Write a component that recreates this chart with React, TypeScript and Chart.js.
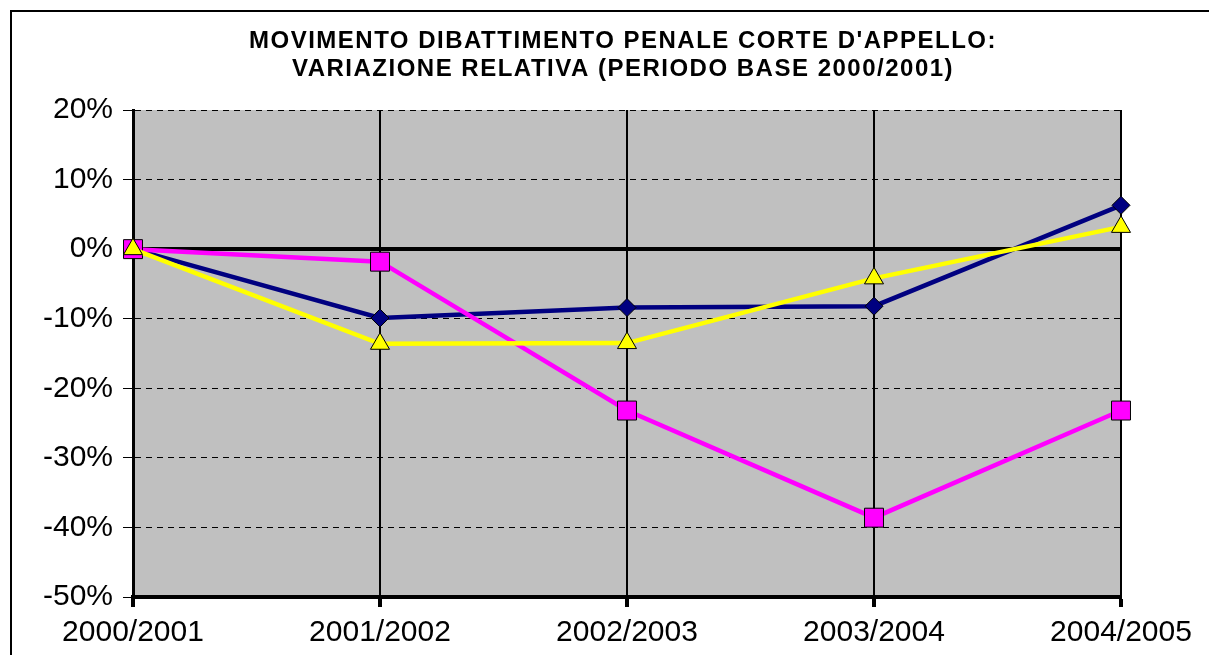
import React, { useEffect, useRef } from 'react';
import { Chart, registerables } from 'chart.js';

Chart.register(...registerables);

const categories = ['2000/2001', '2001/2002', '2002/2003', '2003/2004', '2004/2005'];
const navySeries = [0, -9.9, -8.4, -8.2, 6.3];
const magentaSeries = [0, -1.8, -23.2, -38.6, -23.2];
const yellowSeries = [0, -13.6, -13.5, -4.2, 3.2];
const yMin = -50;
const yMax = 20;
const yStep = 10;
const titleLines = [
  "MOVIMENTO DIBATTIMENTO PENALE CORTE D'APPELLO:",
  'VARIAZIONE RELATIVA (PERIODO BASE 2000/2001)',
];

const FONT = "'Liberation Sans', Arial, sans-serif";

const bgPlugin = {
  id: 'bgPlugin',
  beforeDraw(chart: any) {
    const { ctx, chartArea: a, width, height } = chart;
    ctx.save();
    ctx.fillStyle = '#ffffff';
    ctx.fillRect(0, 0, width, height);
    ctx.fillStyle = '#C0C0C0';
    ctx.fillRect(a.left, a.top, a.right - a.left, a.bottom - a.top);
    ctx.strokeStyle = '#000000';
    ctx.lineWidth = 2;
    ctx.beginPath();
    ctx.moveTo(11, height);
    ctx.lineTo(11, 11);
    ctx.lineTo(width, 11);
    ctx.stroke();
    ctx.restore();
  },
};

const titlePlugin = {
  id: 'spacedTitle',
  afterDraw(chart: any) {
    const { ctx } = chart;
    ctx.save();
    ctx.fillStyle = '#000000';
    ctx.font = `bold 24px ${FONT}`;
    ctx.textAlign = 'center';
    ctx.textBaseline = 'alphabetic';
    try {
      (ctx as any).letterSpacing = '1.5px';
    } catch (e) {}
    const cx = 623;
    titleLines.forEach((line, i) => {
      ctx.fillText(line, cx, 48 + i * 28);
    });
    try {
      (ctx as any).letterSpacing = '0px';
    } catch (e) {}
    ctx.restore();
  },
};

export default function App() {
  const ref = useRef<HTMLCanvasElement | null>(null);

  useEffect(() => {
    if (!ref.current) return;
    const chart = new Chart(ref.current, {
      type: 'line',
      data: {
        labels: categories,
        datasets: [
          {
            label: 'A',
            data: navySeries,
            borderColor: '#000080',
            backgroundColor: '#000080',
            borderWidth: 4.5,
            pointStyle: 'rectRot',
            pointRadius: 9,
            pointBackgroundColor: '#000080',
            pointBorderColor: '#000000',
            pointBorderWidth: 1,
            order: 2,
            tension: 0,
            clip: false,
          },
          {
            label: 'B',
            data: magentaSeries,
            borderColor: '#FF00FF',
            backgroundColor: '#FF00FF',
            borderWidth: 4.5,
            pointStyle: 'rect',
            pointRadius: 13.4,
            pointBackgroundColor: '#FF00FF',
            pointBorderColor: '#000000',
            pointBorderWidth: 1,
            order: 1,
            tension: 0,
            clip: false,
          },
          {
            label: 'C',
            data: yellowSeries,
            borderColor: '#FFFF00',
            backgroundColor: '#FFFF00',
            borderWidth: 4.5,
            pointStyle: 'triangle',
            pointRadius: 11,
            pointBackgroundColor: '#FFFF00',
            pointBorderColor: '#000000',
            pointBorderWidth: 1,
            order: 0,
            tension: 0,
            clip: false,
          },
        ] as any,
      },
      options: {
        animation: false,
        responsive: false,
        layout: { padding: { left: 35, right: 0, top: 110, bottom: 0 } },
        plugins: {
          legend: { display: false },
          tooltip: { enabled: false },
          title: { display: false },
        },
        scales: {
          x: {
            type: 'category',
            offset: false,
            grid: {
              color: '#000000',
              lineWidth: 2,
              drawTicks: true,
              tickLength: 10,
              tickWidth: 4,
              tickColor: '#000000',
              offset: false,
            },
            border: { display: true, color: '#000000', width: 4 },
            ticks: {
              color: '#000000',
              font: { family: FONT, size: 30 },
              padding: 8,
              maxRotation: 0,
              autoSkip: false,
            },
            afterFit(s: any) {
              s.height = 58;
              s.paddingRight = 88;
              s.paddingLeft = 0;
            },
          },
          y: {
            type: 'linear',
            min: yMin,
            max: yMax,
            grid: {
              color: '#000000',
              lineWidth: (c: any) => (c.tick && c.tick.value === 0 ? 4 : 1),
              drawTicks: true,
              tickLength: 10,
              tickWidth: 1,
              tickColor: '#000000',
            },
            border: {
              display: true,
              color: '#000000',
              width: 3,
              dash: (c: any) => (c.tick && c.tick.value === 0 ? [] : [6, 5]),
            },
            ticks: {
              stepSize: yStep,
              color: '#000000',
              font: { family: FONT, size: 30 },
              padding: 10,
              callback: (v: any) => `${v}%`,
            },
            afterFit(s: any) {
              s.width = 98;
            },
          },
        },
      } as any,
      plugins: [bgPlugin, titlePlugin],
    });
    return () => chart.destroy();
  }, []);

  return (
    <div style={{ position: 'absolute', left: 0, top: 0, width: 1209, height: 655 }}>
      <canvas ref={ref} width={1209} height={655} style={{ display: 'block' }} />
    </div>
  );
}
